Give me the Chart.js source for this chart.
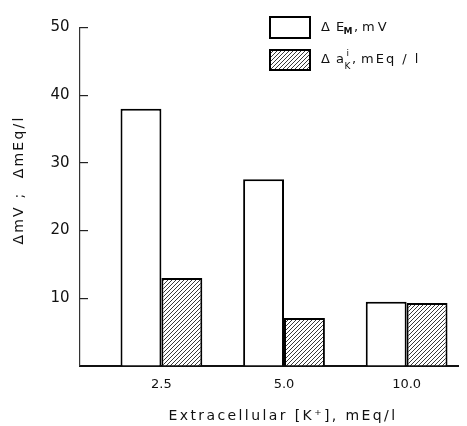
<!DOCTYPE html>
<html>
<head>
<meta charset="utf-8">
<script src="https://cdn.jsdelivr.net/npm/chart.js@4"></script>
<style>
  html, body { margin: 0; padding: 0; background: #fff; }
  #wrap { width: 467px; height: 426px; }
</style>
</head>
<body>
<div id="wrap"><canvas id="c" width="467" height="426"></canvas></div>
<script>
// ---- data ----
const categories = ['2.5', '5.0', '10.0'];
const deltaEM = [38.0, 27.6, 9.5];      // ΔE_M, mV
const deltaAK = [13.0, 7.1, 9.3];       // Δa^i_K, mEq/l
const yTicks = [10, 20, 30, 40, 50];
const xTitle = 'Extracellular [K⁺], mEq/l';
const yTitle = 'ΔmV ;  ΔmEq/l';

const FONT = '"DejaVu Sans", sans-serif';

function hatchPattern() {
  const p = 4;
  const c = document.createElement('canvas');
  c.width = p; c.height = p;
  const g = c.getContext('2d');
  g.fillStyle = '#fff';
  g.fillRect(0, 0, p, p);
  g.strokeStyle = '#222';
  g.lineWidth = 0.9;
  g.beginPath();
  g.moveTo(0, p); g.lineTo(p, 0);
  g.moveTo(-1, 1); g.lineTo(1, -1);
  g.moveTo(p - 1, p + 1); g.lineTo(p + 1, p - 1);
  g.stroke();
  const ctx = document.getElementById('c').getContext('2d');
  return ctx.createPattern(c, 'repeat');
}
const hatch = hatchPattern();

const textPlugin = {
  id: 'customText',
  afterDraw(chart) {
    const ctx = chart.ctx;
    ctx.save();
    // ---- legend boxes ----
    ctx.lineWidth = 2;
    ctx.strokeStyle = '#000';
    ctx.fillStyle = '#fff';
    ctx.fillRect(270, 17, 40, 21);
    ctx.strokeRect(270, 17, 40, 21);
    ctx.fillStyle = hatch;
    ctx.fillRect(270, 50, 40, 20);
    ctx.strokeRect(270, 50, 40, 20);

    // ---- legend texts ----
    ctx.fillStyle = '#111';
    ctx.textBaseline = 'alphabetic';
    ctx.textAlign = 'left';
    const big = '13px ' + FONT, small = '9px ' + FONT;
    let y = 31;
    ctx.font = big;
    ctx.letterSpacing = '0px';
    ctx.fillText('Δ', 321, y);
    ctx.fillText('E', 336, y);
    ctx.font = 'bold ' + small;
    ctx.fillText('M', 343.5, y + 3);
    ctx.font = big;
    ctx.fillText(',', 354, y);
    ctx.letterSpacing = '3px';
    ctx.fillText('mV', 362, y);
    y = 63;
    ctx.letterSpacing = '0px';
    ctx.fillText('Δ', 321, y);
    ctx.fillText('a', 336, y);
    ctx.font = small;
    ctx.fillText('i', 346.5, y - 7);
    ctx.fillText('K', 344.5, y + 6);
    ctx.font = big;
    ctx.fillText(',', 352, y);
    ctx.letterSpacing = '2px';
    ctx.fillText('mEq / l', 361, y);

    // ---- axis titles ----
    ctx.font = '14px ' + FONT;
    ctx.letterSpacing = '2.4px';
    ctx.textAlign = 'center';
    ctx.textBaseline = 'middle';
    ctx.fillText(xTitle, 283, 416);
    ctx.translate(19, 180);
    ctx.rotate(-Math.PI / 2);
    ctx.letterSpacing = '2.2px';
    ctx.fillText(yTitle, 0, 0);
    ctx.restore();
  }
};

new Chart(document.getElementById('c'), {
  type: 'bar',
  data: {
    datasets: [
      {
        label: 'ΔE_M, mV',
        data: deltaEM.map((v, i) => ({ x: i + 1, y: v })),
        backgroundColor: '#fff',
        borderColor: '#000',
        borderWidth: 2
      },
      {
        label: 'Δa_K^i, mEq/l',
        data: deltaAK.map((v, i) => ({ x: i + 1, y: v })),
        backgroundColor: hatch,
        borderColor: '#000',
        borderWidth: 2
      }
    ]
  },
  options: {
    responsive: false,
    animation: false,
    devicePixelRatio: 1,
    layout: { padding: { top: 21, right: 9, left: 0, bottom: 0 } },
    datasets: { bar: { categoryPercentage: 0.667, barPercentage: 1.0 } },
    plugins: {
      legend: { display: false },
      tooltip: { enabled: false }
    },
    scales: {
      x: {
        type: 'linear',
        offset: false,
        min: 0.336,
        max: 3.419,
        afterBuildTicks(scale) {
          scale.ticks = categories.map((c, i) => ({ value: i + 1 }));
        },
        afterFit(scale) { scale.height = 60; },
        ticks: {
          callback: (v) => categories[v - 1] ?? '',
          color: '#111',
          font: { family: FONT, size: 13 },
          padding: 11,
          autoSkip: false,
          maxRotation: 0
        },
        grid: { display: true, drawOnChartArea: false, drawTicks: false, color: 'rgba(0,0,0,0)' },
        border: { display: true, color: '#111', width: 2 },
        title: { display: false }
      },
      y: {
        min: 0,
        max: 50,
        afterBuildTicks(scale) {
          scale.ticks = [0].concat(yTicks).map(v => ({ value: v }));
        },
        afterFit(scale) { scale.width = 80; },
        ticks: {
          callback: (v) => (v === 0 ? '' : String(v)),
          color: '#111',
          font: { family: FONT, size: 15 },
          padding: 18.5
        },
        grid: { drawOnChartArea: false, drawTicks: true, tickLength: -8, color: '#222', lineWidth: 1.2 },
        border: { display: true, color: '#333', width: 1.2 },
        title: { display: false }
      }
    }
  },
  plugins: [textPlugin]
});
</script>
</body>
</html>
